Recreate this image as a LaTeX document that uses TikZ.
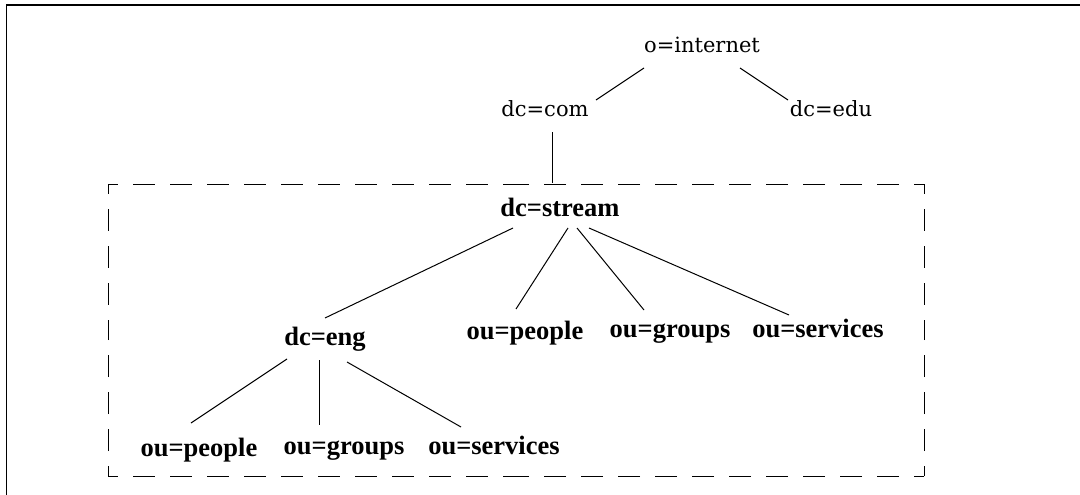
\documentclass[tikz,border=0pt]{standalone}
\usepackage{fontspec}
\setmainfont{Liberation Serif}
\newfontfamily\plainserif{DejaVu Serif}
\usetikzlibrary{calc}
\begin{document}
\begin{tikzpicture}[x=1pt,y=-1pt,
  upper/.style={font=\plainserif\fontsize{21}{25}\selectfont, inner sep=0pt, anchor=base},
  lower/.style={font=\bfseries\fontsize{26.5}{30}\selectfont, inner sep=0pt, anchor=base},
  link/.style={line width=1pt},
  frameline/.style={line width=1.8pt},
  scopebox/.style={line width=1pt, dash pattern=on 22pt off 15pt, dash phase=12pt}]
\useasboundingbox (0,0) rectangle (1080,495);

% outer frame (top and left edges)
\draw[frameline] (6.5,495) -- (6.5,5) -- (1080,5);

% directory entries
\node[upper] (inet) at (702,53) {o=internet};
\node[upper] (com)  at (545,117) {dc=com};
\node[upper] (edu)  at (831,117) {dc=edu};
\node[lower] (stream) at (560,216) {dc=stream};
\node[lower] (eng)  at (325,345) {dc=eng};
\node[lower] (ppl)  at (525,339) {ou=people};
\node[lower] (grp)  at (670,337) {ou=groups};
\node[lower] (svc)  at (818,337) {ou=services};
\node[lower] (ppl2) at (199,456) {ou=people};
\node[lower] (grp2) at (344,454) {ou=groups};
\node[lower] (svc2) at (494,454) {ou=services};

% dashed boundary of the stream subtree, each side drawn from its corners
\coordinate (bx1) at (108,184);
\coordinate (bx2) at (924,184);
\coordinate (bx3) at (924,476);
\coordinate (bx4) at (108,476);
\draw[scopebox] (bx1) -- ($(bx1)!0.5!(bx2)$);
\draw[scopebox] (bx2) -- ($(bx1)!0.5!(bx2)$);
\draw[scopebox] (bx2) -- ($(bx2)!0.5!(bx3)$);
\draw[scopebox] (bx3) -- ($(bx2)!0.5!(bx3)$);
\draw[scopebox] (bx3) -- ($(bx3)!0.5!(bx4)$);
\draw[scopebox] (bx4) -- ($(bx3)!0.5!(bx4)$);
\draw[scopebox] (bx4) -- ($(bx4)!0.5!(bx1)$);
\draw[scopebox] (bx1) -- ($(bx4)!0.5!(bx1)$);

% tree links
\draw[link] ([shift={(-58,15)}]inet.base) -- ([shift={(51,-17)}]com.base);
\draw[link] ([shift={(38,15)}]inet.base) -- ([shift={(-43,-17)}]edu.base);
\draw[link] ([shift={(7,15)}]com.base) -- ([shift={(-8,-33)}]stream.base);

\draw[link] ([shift={(-47,12)}]stream.base) -- ([shift={(0,-27)}]eng.base);
\draw[link] ([shift={(8,12)}]stream.base) -- ([shift={(-9,-30)}]ppl.base);
\draw[link] ([shift={(17,12)}]stream.base) -- ([shift={(-26,-27)}]grp.base);
\draw[link] ([shift={(29,12)}]stream.base) -- ([shift={(-29,-22)}]svc.base);

\draw[link] ([shift={(-38,14)}]eng.base) -- ([shift={(-8,-33)}]ppl2.base);
\draw[link] ([shift={(-6,15)}]eng.base) -- ([shift={(-25,-29)}]grp2.base);
\draw[link] ([shift={(22,17)}]eng.base) -- ([shift={(-33,-27)}]svc2.base);
\end{tikzpicture}
\end{document}
